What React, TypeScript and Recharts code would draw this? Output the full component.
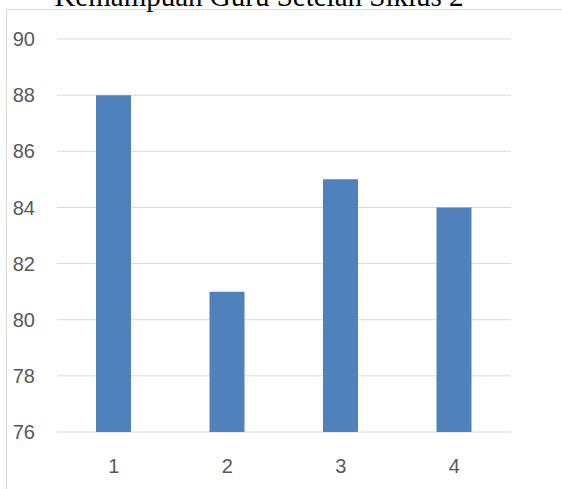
import React from "react";
import { Bar, BarChart, CartesianGrid, XAxis, YAxis } from "recharts";

// Teacher ability scores after cycle 2, one bar per aspect.
const categories = ["1", "2", "3", "4"];
const scores = [88, 81, 85, 84];
const yTicks = [76, 78, 80, 82, 84, 86, 88, 90];
const title = "Kemampuan Guru Setelah Siklus 2";

const data = categories.map((name, i) => ({ name, score: scores[i] }));

const W = 562;
const H = 489;
const tickStyle = { fontSize: 20, fill: "#595959", fontFamily: "'Liberation Sans', Arial, sans-serif" };

export default function App() {
  return (
    <div style={{ position: "fixed", left: 0, top: 0, width: W, height: H, background: "#fff" }}>
      <BarChart
        width={W}
        height={H}
        data={data}
        margin={{ top: 39, right: 51, bottom: 0, left: 0 }}
        barSize={35}
      >
        <CartesianGrid vertical={false} stroke="#D9D9D9" strokeWidth={1} />
        <XAxis
          dataKey="name"
          axisLine={false}
          tickLine={false}
          tickSize={0}
          tickMargin={27}
          height={57}
          tick={tickStyle}
        />
        <YAxis
          domain={[76, 90]}
          ticks={yTicks}
          axisLine={false}
          tickLine={false}
          tickSize={0}
          tickMargin={22}
          width={57}
          tick={tickStyle}
          interval={0}
        />
        <Bar dataKey="score" fill="#4F81BD" isAnimationActive={false} />
      </BarChart>
      <svg
        width={W}
        height={H}
        style={{ position: "absolute", left: 0, top: 0, pointerEvents: "none" }}
      >
        <line x1={6.5} y1={9.5} x2={W} y2={9.5} stroke="#D9D9D9" />
        <line x1={6.5} y1={9.5} x2={6.5} y2={H} stroke="#D9D9D9" />
        <text
          x={259}
          y={6}
          textAnchor="middle"
          fontFamily="'Liberation Serif', 'Times New Roman', serif"
          fontSize={29}
          fill="#000"
        >
          {title}
        </text>
      </svg>
    </div>
  );
}
